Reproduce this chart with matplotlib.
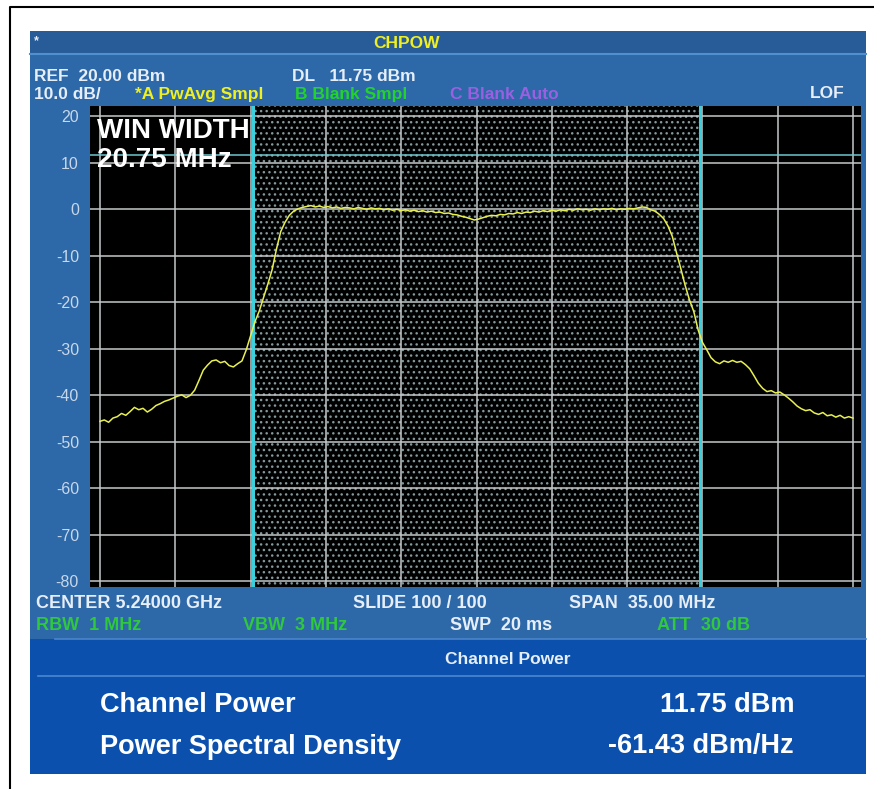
import matplotlib.pyplot as plt
import numpy as np
from matplotlib.patches import Rectangle
from matplotlib.lines import Line2D

plt.rcParams['font.family'] = ['Liberation Sans', 'DejaVu Sans']

span_mhz = 35.0
win_width_mhz = 20.75
display_line_dbm = 11.75
y_ticks = [20, 10, 0, -10, -20, -30, -40, -50, -60, -70, -80]

# Trace A (dBm), 176 points de -17.5 à +17.5 MHz autour de 5.24 GHz
trace_dbm = [
    -45.6, -45.3, -45.8, -44.9, -44.6, -43.9, -44.3, -43.5, -42.6, -43.1,
    -42.8, -43.6, -43.0, -42.2, -41.8, -41.3, -41.0, -40.6, -40.2, -39.9,
    -40.5, -40.0, -38.9, -36.8, -34.6, -33.5, -32.6, -32.4, -33.0, -32.7,
    -33.6, -33.9, -33.2, -32.6, -30.2, -27.2, -24.2, -21.9, -19.0, -16.1,
    -13.0, -8.6, -4.8, -2.8, -1.3, -0.4, 0.1, 0.4, 0.6, 0.8,
    0.5, 0.7, 0.4, 0.6, 0.3, 0.5, 0.2, 0.4, 0.3, 0.1,
    0.4, 0.2, 0.0, 0.3, 0.1, 0.2, -0.1, 0.1, -0.2, 0.0,
    -0.3, -0.1, -0.4, -0.2, -0.5, -0.3, -0.6, -0.4, -0.7, -0.6,
    -0.9, -0.8, -1.1, -1.2, -1.5, -1.7, -2.0, -2.3, -2.1, -1.8,
    -1.5, -1.3, -1.4, -1.1, -1.2, -0.9, -1.0, -0.7, -0.9, -0.6,
    -0.7, -0.4, -0.6, -0.3, -0.5, -0.2, -0.4, -0.1, -0.3, 0.0,
    -0.2, 0.1, -0.1, 0.0, -0.2, 0.1, -0.1, 0.1, 0.0, 0.2,
    -0.1, 0.1, 0.0, 0.2, 0.1, 0.3, 0.5, 0.4, -0.1, -0.4,
    -1.1, -2.0, -3.6, -5.8, -9.4, -12.8, -16.4, -19.5, -22.0, -25.9,
    -28.6, -30.2, -31.9, -32.8, -33.2, -32.6, -32.9, -32.5, -32.9, -32.7,
    -33.4, -34.3, -35.8, -37.4, -38.5, -39.2, -39.0, -39.5, -39.3, -39.9,
    -40.6, -41.4, -42.3, -42.9, -43.3, -43.1, -43.8, -44.1, -43.7, -44.4,
    -44.2, -44.7, -44.3, -44.9, -44.6, -44.9,
]
freq_mhz = np.linspace(-span_mhz / 2, span_mhz / 2, len(trace_dbm))

W, H = 874, 789
fig = plt.figure(figsize=(W / 100, H / 100), dpi=100)
fig.patch.set_facecolor('white')


def fx(x):
    return x / W


def fy(y):
    return 1 - y / H


def box(x0, y0, x1, y1, color):
    fig.add_artist(Rectangle((fx(x0), fy(y1)), (x1 - x0) / W, (y1 - y0) / H,
                             transform=fig.transFigure, facecolor=color,
                             lw=0, zorder=-2))


def hline(x0, x1, y, color, lw=1.2):
    fig.add_artist(Line2D([fx(x0), fx(x1)], [fy(y), fy(y)], color=color, lw=lw,
                          transform=fig.transFigure, zorder=-1))


def txt(x, y, s, color='#e6eef8', size=12.5, ha='left', weight='bold'):
    fig.text(fx(x), fy(y), s, color=color, fontsize=size, ha=ha, va='baseline',
             fontweight=weight, zorder=5)


# cadre noir extérieur
fig.add_artist(Line2D([fx(10), fx(10), fx(874)], [fy(789), fy(7), fy(7)],
                      color='black', lw=1.5, transform=fig.transFigure))

# panneaux bleus
box(30, 31, 866, 639, '#2d68a8')
box(30, 31, 866, 53, '#285c98')
hline(30, 866, 54, '#5090d0', lw=1.5)
box(30, 639, 866, 774, '#0c50ae')
hline(55, 866, 639, '#4a86cc', lw=1.2)
hline(38, 864, 676, '#4a88d0', lw=1.2)

# zone de tracé
ax = fig.add_axes([fx(90), fy(587), (861 - 90) / W, (587 - 106) / H])
ax.set_facecolor('black')
px_per_mhz = 753 / span_mhz
ax.set_xlim(-span_mhz / 2 - 10 / px_per_mhz, span_mhz / 2 + 8 / px_per_mhz)
ax.set_ylim((209.3 - 587) / 4.65, (209.3 - 106) / 4.65)

ax.axvspan(-win_width_mhz / 2, win_width_mhz / 2, facecolor='black',
           edgecolor='#84989a', hatch='...', lw=0, zorder=0.5)

ax.set_xticks(np.linspace(-span_mhz / 2, span_mhz / 2, 11))
ax.set_yticks(y_ticks)
ax.set_yticklabels([str(t) for t in y_ticks])
ax.set_xticklabels([])
ax.grid(True, color='#c4c8c8', lw=1.1, zorder=1.5)
ax.tick_params(axis='both', length=0, pad=8, labelcolor='#c8d8ea', labelsize=11.5)
for s in ax.spines.values():
    s.set_visible(False)

ax.axhline(display_line_dbm, color='#6cc8d0', lw=1.1, zorder=2)
for xv in (-win_width_mhz / 2, win_width_mhz / 2):
    ax.axvline(xv, color='#3cd0dc', lw=2.2, zorder=2.5)

ax.plot(freq_mhz, trace_dbm, color='#e8f050', lw=1.1, zorder=3)

# textes d'en-tête
txt(34, 44, '*', size=9)
txt(406, 48, 'CHPOW', color='#f0f020', size=12.5, ha='center')
txt(34, 81, 'REF  20.00 dBm')
txt(292, 81, 'DL   11.75 dBm')
txt(34, 99, '10.0 dB/')
txt(135, 99, '*A PwAvg Smpl', color='#f0f020')
txt(295, 99, 'B Blank Smpl', color='#22d42a')
txt(450, 99, 'C Blank Auto', color='#9a60e0')
txt(845, 98, 'LOF', ha='right')

txt(97, 138, 'WIN WIDTH', color='white', size=20)
txt(97, 167, '20.75 MHz', color='white', size=20)

# textes sous le tracé
txt(36, 607.5, 'CENTER 5.24000 GHz', size=13)
txt(353, 607.5, 'SLIDE 100 / 100', size=13)
txt(569, 607.5, 'SPAN  35.00 MHz', size=13)
txt(36, 629.5, 'RBW  1 MHz', color='#30c83c', size=13)
txt(243, 629.5, 'VBW  3 MHz', color='#30c83c', size=13)
txt(450, 629.5, 'SWP  20 ms', size=13)
txt(657, 629.5, 'ATT  30 dB', color='#30c83c', size=13)

# panneau Channel Power
txt(445, 663.5, 'Channel Power', size=12.5)
txt(100, 712.5, 'Channel Power', color='white', size=19.5)
txt(794, 712.5, '11.75 dBm', color='white', size=19.5, ha='right')
txt(100, 753.5, 'Power Spectral Density', color='white', size=19.5)
txt(794, 753.5, '-61.43 dBm/Hz', color='white', size=19.5, ha='right')

plt.savefig('out.png', dpi=100, facecolor='white')
